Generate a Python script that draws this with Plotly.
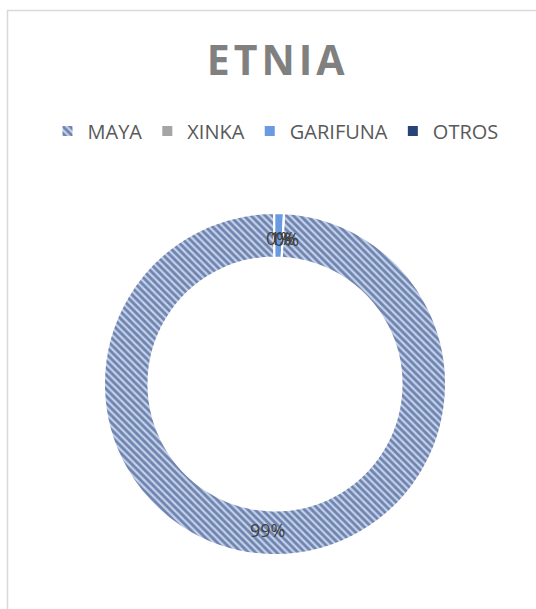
import math
import plotly.graph_objects as go

# ---- data ----
categories = ["MAYA", "XINKA", "GARIFUNA", "OTROS"]
values = [99.1, 0.0, 0.9, 0.0]
title_text = "ETNIA"

colors = ["#c3d1ea", "#a5a5a5", "#6a9be0", "#264478"]
stripe = "#1c3573"

W, H = 536, 609
cx, cy, R = 275, 384, 171
hole = 0.74
rot = 3.0

fig = go.Figure()
fig.add_trace(go.Pie(
    labels=categories,
    values=values,
    hole=hole,
    sort=False,
    direction="clockwise",
    rotation=rot,
    textinfo="none",
    marker=dict(
        colors=colors,
        line=dict(color="white", width=2),
        pattern=dict(shape=["\\", "", "", ""], fgcolor=stripe, size=5, solidity=0.55,
                     fillmode="overlay"),
    ),
    domain=dict(x=[(cx - R) / W, (cx + R) / W], y=[(H - cy - R) / H, (H - cy + R) / H]),
    showlegend=True,
))

# data labels placed at slice bisectors (computed from the data)
total = sum(values)
annotations = []
acc = 0.0
for cat, v in zip(categories, values):
    mid = rot + 1.5 + (acc + v / 2) / total * 360.0
    acc += v
    rr = R * (1 + hole) / 2 - 3
    x = cx + rr * math.sin(math.radians(mid))
    y = cy - rr * math.cos(math.radians(mid))
    annotations.append(dict(
        x=x / W, y=1 - y / H, xref="paper", yref="paper",
        text=f"{round(v / total * 100)}%", showarrow=False,
        font=dict(family="Open Sans", size=18, color="#404040"),
        xanchor="center", yanchor="middle",
    ))

fig.update_layout(
    width=W, height=H,
    margin=dict(l=0, r=0, t=0, b=0),
    paper_bgcolor="white",
    plot_bgcolor="white",
    title=dict(text=f'<span style="letter-spacing:4px">{title_text}</span>',
               x=0.518, xanchor="center", y=1 - 61 / H, yanchor="middle",
               font=dict(family="Open Sans", size=41, color="#808080", weight="bold")),
    legend=dict(orientation="h", x=0.514, xanchor="center", y=1 - 131 / H, yanchor="middle",
                font=dict(family="Open Sans", size=20, color="#595959"),
                traceorder="normal", itemwidth=30),
    annotations=annotations,
    shapes=[dict(type="rect", xref="paper", yref="paper",
                 x0=7.5 / W, x1=1.2, y0=-0.2, y1=1 - 10.5 / H,
                 line=dict(color="#d9d9d9", width=1.5), fillcolor="rgba(0,0,0,0)",
                 layer="below")],
)

fig.write_html("out.html")
